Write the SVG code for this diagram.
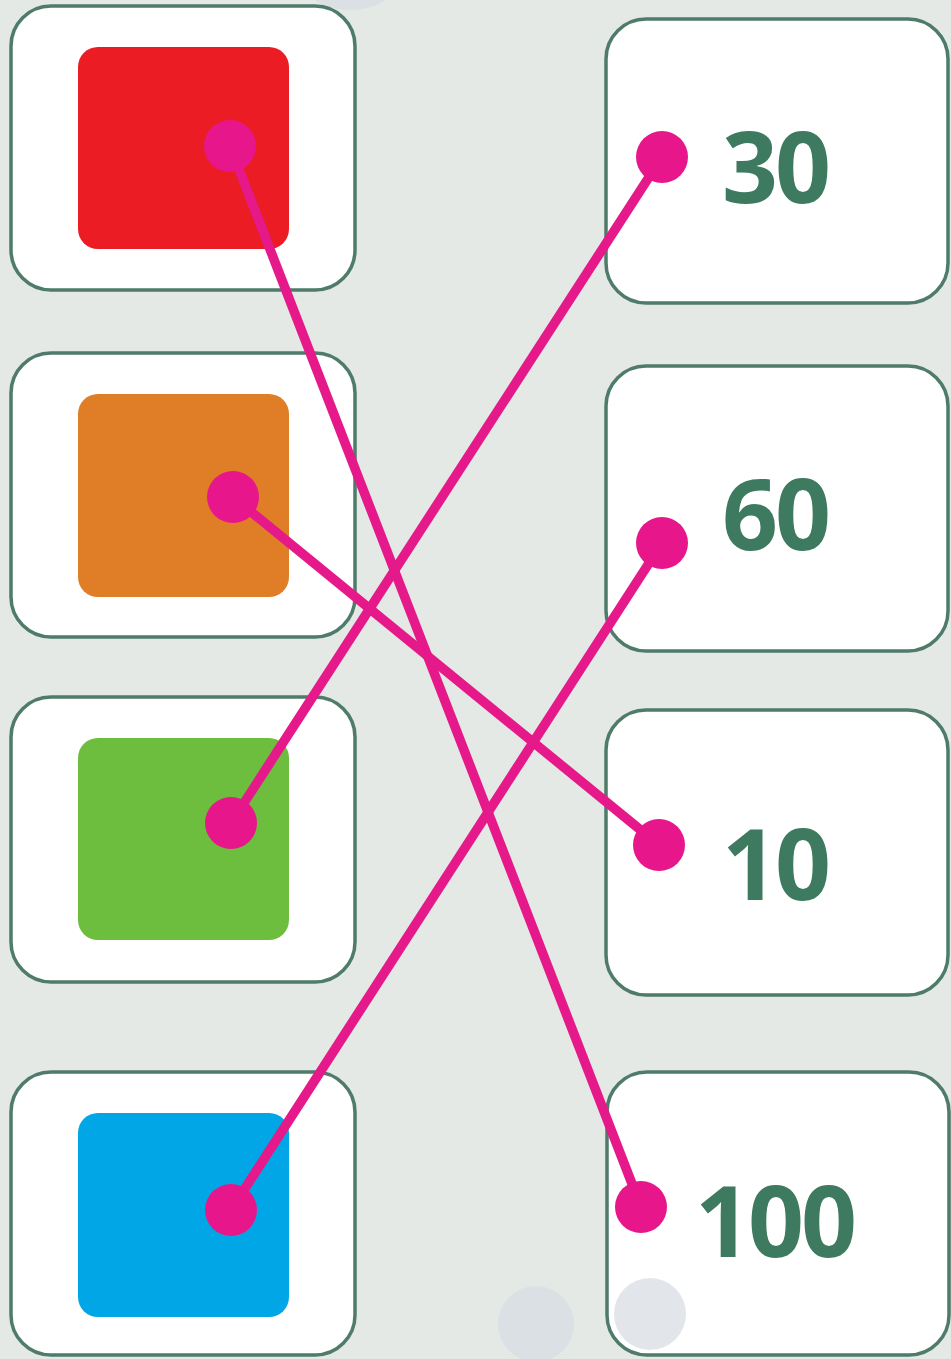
<svg xmlns="http://www.w3.org/2000/svg" width="951" height="1359" viewBox="0 0 951 1359">
  <style>
    .card { fill: #ffffff; stroke: #4f7b6b; stroke-width: 3.5; }
    .sq { stroke: none; }
    .num { font-family: "Open Sans", "Liberation Sans", sans-serif; font-weight: 700; font-size: 98px; fill: #3d7a60; letter-spacing: -3px; }
    .wire { stroke: #e5198a; stroke-width: 9.5; stroke-linecap: round; fill: none; }
    .dot { fill: #e8168b; }
    .blob { fill: #d5dbe2; opacity: 0.7; }
  </style>
  <rect x="0" y="0" width="951" height="1359" fill="#e4e9e5"/>
  <ellipse class="blob" cx="350" cy="-12" rx="42" ry="22"/>

  <g id="left-red">
    <rect class="card" x="11" y="6" width="344" height="284" rx="40"/>
    <rect class="sq" x="78" y="47" width="211" height="202" rx="20" fill="#ec1c24"/>
  </g>
  <g id="left-orange">
    <rect class="card" x="11" y="353" width="344" height="284" rx="40"/>
    <rect class="sq" x="78" y="394" width="211" height="203" rx="20" fill="#e07d27"/>
  </g>
  <g id="left-green">
    <rect class="card" x="11" y="697" width="344" height="285" rx="40"/>
    <rect class="sq" x="78" y="738" width="211" height="202" rx="20" fill="#6dbd3f"/>
  </g>
  <g id="left-blue">
    <rect class="card" x="11" y="1072" width="344" height="283" rx="40"/>
    <rect class="sq" x="78" y="1113" width="211" height="204" rx="20" fill="#00a6e6"/>
  </g>

  <g id="right-30">
    <rect class="card" x="606" y="19" width="342" height="284" rx="40"/>
    <text class="num" x="722" y="203">30</text>
  </g>
  <g id="right-60">
    <rect class="card" x="606" y="366" width="342" height="285" rx="40"/>
    <text class="num" x="722" y="550">60</text>
  </g>
  <g id="right-10">
    <rect class="card" x="606" y="710" width="342" height="285" rx="40"/>
    <text class="num" x="722" y="900">10</text>
  </g>
  <g id="right-100">
    <rect class="card" x="607" y="1072" width="342" height="283" rx="40"/>
    <text class="num" x="695" y="1257">100</text>
  </g>

  <circle class="blob" cx="536" cy="1324" r="38"/>
  <circle class="blob" cx="650" cy="1314" r="36" opacity="0.5"/>

  <g id="connectors">
    <line class="wire" x1="230" y1="146" x2="641" y2="1207"/>
    <line class="wire" x1="233" y1="497" x2="659" y2="845"/>
    <line class="wire" x1="231" y1="823" x2="662" y2="157"/>
    <line class="wire" x1="231" y1="1210" x2="662" y2="543"/>
    <circle class="dot" cx="230" cy="146" r="26"/>
    <circle class="dot" cx="233" cy="497" r="26"/>
    <circle class="dot" cx="231" cy="823" r="26"/>
    <circle class="dot" cx="231" cy="1210" r="26"/>
    <circle class="dot" cx="662" cy="157" r="26"/>
    <circle class="dot" cx="662" cy="543" r="26"/>
    <circle class="dot" cx="659" cy="845" r="26"/>
    <circle class="dot" cx="641" cy="1207" r="26"/>
  </g>
</svg>
